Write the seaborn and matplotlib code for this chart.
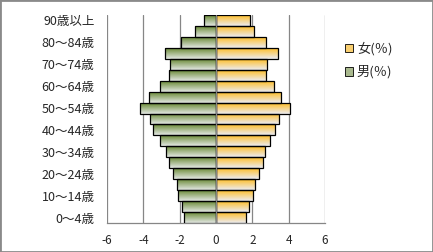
import numpy as np
import pandas as pd
import matplotlib
matplotlib.use("Agg")
import matplotlib.pyplot as plt
import seaborn as sns
from matplotlib.patches import Patch, Rectangle
from matplotlib.colors import to_rgb

# ---- data (bottom to top) ----
ages = ["0～4歳", "5～9歳", "10～14歳", "15～19歳", "20～24歳", "25～29歳",
        "30～34歳", "35～39歳", "40～44歳", "45～49歳", "50～54歳", "55～59歳",
        "60～64歳", "65～69歳", "70～74歳", "75～79歳", "80～84歳", "85～89歳",
        "90歳以上"]
male = [1.75, 1.86, 2.08, 2.13, 2.35, 2.57, 2.74, 3.07, 3.45, 3.64,
        4.17, 3.67, 3.10, 2.57, 2.54, 2.79, 1.91, 1.14, 0.64]
female = [1.65, 1.81, 2.03, 2.12, 2.36, 2.58, 2.69, 2.97, 3.24, 3.46,
          4.05, 3.57, 3.17, 2.75, 2.80, 3.43, 2.75, 2.09, 1.89]
xticks = [-6, -4, -2, 0, 2, 4, 6]
label_f = "女(％)"
label_m = "男(％)"

sns.set_style("white")
plt.rcParams["font.family"] = ["Noto Sans CJK JP", "DejaVu Sans"]
plt.rcParams["axes.unicode_minus"] = False

order = ages[::-1]
df = pd.DataFrame({
    "age": ages + ages,
    "value": [-v for v in male] + female,
    "sex": [label_m] * len(ages) + [label_f] * len(ages),
})

W, H = 433, 252
fig = plt.figure(figsize=(W / 100, H / 100), dpi=100)
ax = fig.add_axes([107 / W, 1 - 223 / H, 218 / W, 208 / H])

sns.barplot(data=df, y="age", x="value", hue="sex", order=order,
            hue_order=[label_m, label_f], dodge=False, width=1.0,
            orient="h", ax=ax, legend=False,
            palette={label_m: "#6E8C3C", label_f: "#FFC020"},
            edgecolor="black", linewidth=0.9, zorder=3)

ax.set_xlim(-6, 6)
ax.set_ylim(len(order) - 0.5, -0.5)
xl, yl = ax.get_xlim(), ax.get_ylim()

grads = {"m": (to_rgb("#6A8A36"), to_rgb("#E4E8E4")),
         "f": (to_rgb("#FFBE28"), to_rgb("#ECECF2"))}
n = 64
t = np.linspace(0, 1, n)[:, None]
for p in list(ax.patches):
    x0, y0, w, h = p.get_x(), p.get_y(), p.get_width(), p.get_height()
    key = "m" if (x0 + w / 2) < 0 else "f"
    c0, c1 = np.array(grads[key][0]), np.array(grads[key][1])
    img = (c0 * (1 - t) + c1 * t)[:, None, :]
    left, right = min(x0, x0 + w), max(x0, x0 + w)
    im = ax.imshow(img, extent=(left, right, y0 + h, y0), origin="upper",
                   aspect="auto", interpolation="bilinear", zorder=2.9)
    im.set_clip_path(p)
    p.set_facecolor("none")
ax.set_xlim(xl)
ax.set_ylim(yl)

ax.axvline(0, color="#868686", linewidth=0.9, zorder=4)

ax.set_xticks(xticks)
ax.set_xticklabels([str(v) for v in xticks])
ax.set_yticks(range(len(order)))
ax.set_yticklabels([lab if i % 2 == 0 else "" for i, lab in enumerate(order)])
ax.set_xlabel("")
ax.set_ylabel("")
ax.grid(axis="x", color="#868686", linewidth=0.9)
ax.grid(axis="y", visible=False)
ax.set_axisbelow(True)
for s in ["top", "right", "left"]:
    ax.spines[s].set_visible(False)
ax.spines["bottom"].set_color("#868686")
ax.spines["bottom"].set_linewidth(0.9)
ax.tick_params(axis="x", direction="out", length=3, color="#868686",
               labelsize=8.5, pad=5, width=0.9)
ax.tick_params(axis="y", length=0, labelsize=9, pad=9)

handles = [Patch(facecolor="#F9CF70", edgecolor="black", linewidth=0.6, label=label_f),
           Patch(facecolor="#A9B98E", edgecolor="black", linewidth=0.6, label=label_m)]
fig.legend(handles=handles, loc="upper left", bbox_to_anchor=(345 / W, 1 - 42 / H),
           frameon=False, fontsize=9.5, handlelength=0.6, handleheight=0.6,
           handletextpad=0.3, labelspacing=0.75, borderpad=0, borderaxespad=0)

fig.patches.append(Rectangle((0, 0), 1, 1, transform=fig.transFigure, fill=False,
                             edgecolor="#8a8a8a", linewidth=2, zorder=10))

fig.savefig("out.png", dpi=100)
